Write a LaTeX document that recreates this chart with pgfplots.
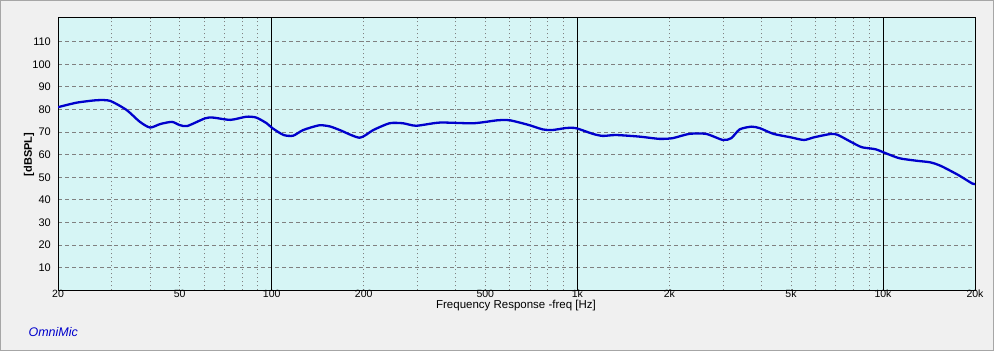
\documentclass[border=0pt]{standalone}
\usepackage{pgfplots}
\pgfplotsset{compat=1.18}
\usepackage{fontspec}
\setmainfont{Liberation Sans}
\definecolor{plotbg}{RGB}{214,245,245}
\definecolor{outerbg}{RGB}{240,240,240}
\definecolor{curve}{RGB}{0,0,204}
\definecolor{gridgray}{RGB}{128,128,128}
\begin{document}
\begin{tikzpicture}[x=1pt,y=1pt,font=\fontsize{11}{12}\selectfont]
\fill[outerbg] (0,0) rectangle (994,351);
\draw[gray!70, line width=1pt] (0.5,0.5) rectangle (993.5,350.5);
\begin{axis}[at={(58pt,60.7pt)}, anchor=south west,
  width=917pt, height=272.6pt, scale only axis,
  xmode=log, xmin=20, xmax=20000, ymin=0, ymax=120.6,
  axis background/.style={fill=plotbg},
  axis line style={black, line width=1pt},
  xtick={20,50,100,200,500,1000,2000,5000,10000,20000},
  xticklabels={20,50,100,200,500,1k,2k,5k,10k,20k},
  minor xtick={30,40,50,60,70,80,90,200,300,400,500,600,700,800,900,2000,3000,4000,5000,6000,7000,8000,9000},
  xminorgrids=true,
  minor grid style={gridgray, line width=0.7pt, dash pattern=on 1.5pt off 2.5pt},
  ytick={10,20,...,110},
  ymajorgrids=true,
  major grid style={gridgray, line width=0.8pt, dash pattern=on 4pt off 3pt},
  major tick length=0pt, minor tick length=0pt,
  extra x ticks={100,1000,10000},
  extra x tick labels={},
  extra x tick style={xmajorgrids=true, major grid style={black, solid, line width=1pt}},
  xticklabel style={inner sep=0pt, anchor=base, yshift=-7.6pt, font=\fontsize{10.5}{12}\selectfont},
  yticklabel style={inner sep=0pt, anchor=east, xshift=-7pt, font=\fontsize{11}{12}\selectfont},
  /pgf/number format/assume math mode=true,
  clip=true,
]
\addplot[curve, line width=2.3pt, smooth, tension=0.4] coordinates {
(20,81.0) (23,83.0) (26.8,84.1) (29.6,83.8) (33.5,79.8) (37.0,74.6) (40,72.0)
(43.3,73.6) (47.2,74.5) (50,73.1) (53,72.7) (60.6,76.1) (64.4,76.4) (73.3,75.4)
(82.7,76.8) (89.1,76.4) (96.3,73.9) (100.6,71.7) (109.4,68.7) (117.6,68.4)
(126.8,70.9) (143,73.0) (155,72.5) (167,70.9) (194,67.5) (215,70.9) (243,73.9)
(269,73.9) (297,72.8) (355,74.2) (457,73.9) (547,75.2) (602,75.2) (695,73.1)
(770,71.2) (829,70.9) (919,71.8) (991,71.7) (1124,69.2) (1212,68.3) (1337,68.7)
(1594,68.0) (1854,67.0) (2050,67.3) (2323,69.2) (2637,69.2) (2993,66.5)
(3188,67.3) (3398,71.2) (3714,72.4) (3958,71.7) (4382,69.2) (4980,67.7)
(5514,66.5) (5956,67.7) (6768,69.2) (7128,68.7) (7896,65.5) (8527,63.3)
(9449,62.4) (10225,60.6) (11329,58.4) (12893,57.3) (14294,56.6) (15475,55.0)
(17637,51.0) (19551,47.3) (20000,47.0)
};
\end{axis}
\node[rotate=90, font=\fontsize{11}{12}\selectfont\bfseries] at (29,196.5) {[dBSPL]};
\node[anchor=base, inner sep=0pt, font=\fontsize{11.5}{13}\selectfont] at (516,42.6) {Frequency Response -freq [Hz]};
\node[anchor=west, text=blue!80!black, font=\fontsize{12.5}{14}\selectfont\itshape] at (25,19) {OmniMic};
\end{tikzpicture}
\end{document}
